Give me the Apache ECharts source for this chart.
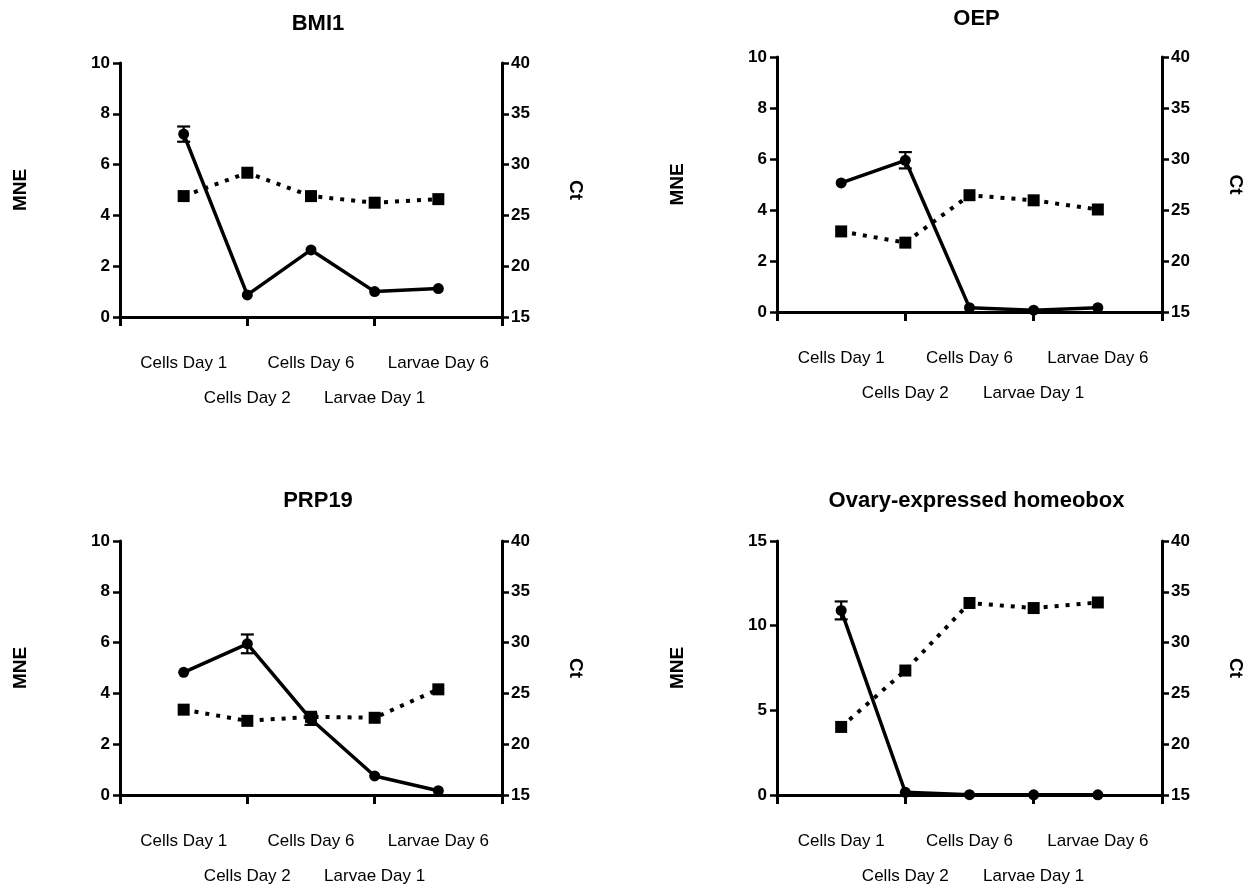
<!DOCTYPE html>
<html>
<head>
<meta charset="utf-8">
<script src="https://cdn.jsdelivr.net/npm/echarts@6/dist/echarts.min.js"></script>
<style>
html,body{margin:0;padding:0;background:#fff;}
#chart{width:1249px;height:886px;}
</style>
</head>
<body>
<div id="chart"></div>
<script>
// ---- data ----
const categories = ['Cells Day 1', 'Cells Day 2', 'Cells Day 6', 'Larvae Day 1', 'Larvae Day 6'];

const bmi1MNE = [7.2, 0.87, 2.64, 1.0, 1.12];
const bmi1Err = [0.3, 0, 0, 0, 0];
const bmi1Ct  = [26.9, 29.2, 26.9, 26.25, 26.6];

const oepMNE = [5.06, 5.95, 0.17, 0.07, 0.17];
const oepErr = [0, 0.32, 0, 0, 0];
const oepCt  = [22.9, 21.8, 26.45, 25.95, 25.05];

const prp19MNE = [4.83, 5.95, 2.98, 0.75, 0.17];
const prp19Err = [0, 0.37, 0.22, 0, 0];
const prp19Ct  = [23.4, 22.3, 22.7, 22.6, 25.4];

const oehMNE = [10.9, 0.16, 0.02, 0.01, 0.01];
const oehErr = [0.53, 0, 0, 0, 0];
const oehCt  = [21.7, 27.25, 33.9, 33.4, 33.95];

const titles = ['BMI1', 'OEP', 'PRP19', 'Ovary-expressed homeobox'];
const leftAxisMax = [10, 10, 10, 15];
const leftAxisInterval = [2, 2, 2, 5];
const rightAxisMin = 15, rightAxisMax = 40, rightAxisInterval = 5;
const leftAxisName = 'MNE', rightAxisName = 'Ct';

// ---- layout ----
const FONT = "'Liberation Sans', Arial, Helvetica, sans-serif";
const grids = [
  {left: 120, top: 63, width: 382, height: 254},
  {left: 777, top: 57, width: 385, height: 255},
  {left: 120, top: 541, width: 382, height: 254},
  {left: 777, top: 541, width: 385, height: 254}
];
const titleTops = [8, 3, 485, 485];

const panelData = [
  {mne: bmi1MNE, err: bmi1Err, ct: bmi1Ct},
  {mne: oepMNE, err: oepErr, ct: oepCt},
  {mne: prp19MNE, err: prp19Err, ct: prp19Ct},
  {mne: oehMNE, err: oehErr, ct: oehCt}
];

const black = '#000';
const option = {
  backgroundColor: '#fff',
  animation: false,
  title: [],
  grid: [],
  xAxis: [],
  yAxis: [],
  series: []
};

grids.forEach((g, i) => {
  option.grid.push(Object.assign({outerBoundsMode: 'none', containLabel: false}, g));
  option.title.push({
    text: titles[i],
    left: g.left + g.width / 2 + 2,
    top: titleTops[i],
    textAlign: 'center',
    textStyle: {fontFamily: FONT, fontWeight: 'bold', fontSize: 22, color: black}
  });
  const xBase = option.xAxis.length;
  // axis line + ticks
  option.xAxis.push({
    gridIndex: i, type: 'value', position: 'bottom', min: 0, max: 6, interval: 2,
    axisLine: {show: true, onZero: false, lineStyle: {color: black, width: 3}},
    axisTick: {show: true, length: 9, lineStyle: {color: black, width: 3}},
    axisLabel: {show: false}, splitLine: {show: false}
  });
  // category labels, row 1 (odd positions) and row 2 (even positions)
  [1, 0].forEach((parity, r) => {
    option.xAxis.push({
      gridIndex: i, type: 'value', position: 'bottom', min: 0, max: 6, interval: 1,
      axisLine: {show: false, onZero: false}, axisTick: {show: false}, splitLine: {show: false},
      axisLabel: {
        show: true, hideOverlap: false, margin: r === 0 ? 38 : 73,
        fontFamily: FONT, fontSize: 17, color: black,
        formatter: v => (v >= 1 && v <= 5 && v % 2 === parity) ? categories[v - 1] : ''
      }
    });
  });
  const yBase = option.yAxis.length;
  option.yAxis.push({
    gridIndex: i, type: 'value', position: 'left', min: 0, max: leftAxisMax[i], interval: leftAxisInterval[i],
    name: leftAxisName, nameLocation: 'middle', nameRotate: 90, nameGap: 90,
    nameTextStyle: {fontFamily: FONT, fontWeight: 'bold', fontSize: 19, color: black},
    axisLine: {show: true, onZero: false, lineStyle: {color: black, width: 3}},
    axisTick: {show: true, length: 7, lineStyle: {color: black, width: 2.5}},
    axisLabel: {margin: 10, fontFamily: FONT, fontWeight: 'bold', fontSize: 17, color: black},
    splitLine: {show: false}
  });
  option.yAxis.push({
    gridIndex: i, type: 'value', position: 'right', min: rightAxisMin, max: rightAxisMax, interval: rightAxisInterval,
    name: rightAxisName, nameLocation: 'middle', nameRotate: -90, nameGap: 64,
    nameTextStyle: {fontFamily: FONT, fontWeight: 'bold', fontSize: 19, color: black},
    axisLine: {show: true, onZero: false, lineStyle: {color: black, width: 3}},
    axisTick: {show: true, length: 7, lineStyle: {color: black, width: 2.5}},
    axisLabel: {margin: 9, fontFamily: FONT, fontWeight: 'bold', fontSize: 17, color: black},
    splitLine: {show: false}
  });

  const d = panelData[i];
  // Ct series (dotted, squares)
  option.series.push({
    type: 'line', xAxisIndex: xBase, yAxisIndex: yBase + 1,
    data: d.ct.map((v, k) => [k + 1, v]),
    symbol: 'rect', symbolSize: 12,
    itemStyle: {color: black},
    lineStyle: {color: black, width: 4, type: [4, 7], cap: 'butt'},
    z: 2
  });
  // MNE series (solid, circles)
  option.series.push({
    type: 'line', xAxisIndex: xBase, yAxisIndex: yBase,
    data: d.mne.map((v, k) => [k + 1, v]),
    symbol: 'circle', symbolSize: 11,
    itemStyle: {color: black},
    lineStyle: {color: black, width: 3.5},
    z: 3
  });
  // error bars
  const errData = [];
  d.err.forEach((e, k) => { if (e > 0) errData.push([k + 1, d.mne[k], e]); });
  option.series.push({
    type: 'custom', xAxisIndex: xBase, yAxisIndex: yBase,
    data: errData, z: 4,
    renderItem: (params, api) => {
      const x = api.value(0), y = api.value(1), e = api.value(2);
      const top = api.coord([x, y + e]);
      const bot = api.coord([x, y - e]);
      const w = 6.5;
      const st = {stroke: black, lineWidth: 2.2};
      return {
        type: 'group',
        children: [
          {type: 'line', shape: {x1: top[0], y1: top[1], x2: bot[0], y2: bot[1]}, style: st},
          {type: 'line', shape: {x1: top[0] - w, y1: top[1], x2: top[0] + w, y2: top[1]}, style: st},
          {type: 'line', shape: {x1: bot[0] - w, y1: bot[1], x2: bot[0] + w, y2: bot[1]}, style: st}
        ]
      };
    }
  });
});

const chart = echarts.init(document.getElementById('chart'), null, {renderer: 'canvas'});
chart.setOption(option);
</script>
</body>
</html>
